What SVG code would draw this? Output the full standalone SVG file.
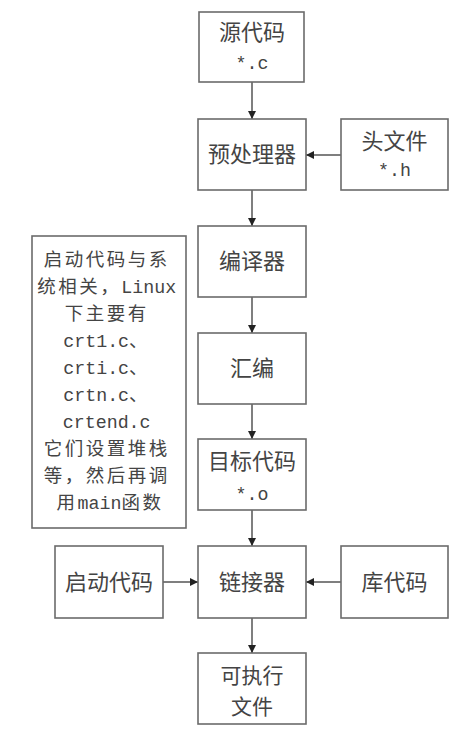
<svg xmlns="http://www.w3.org/2000/svg" width="463" height="746" viewBox="0 0 463 746">
<style>
.box{fill:#fff;stroke:#6b6b6b;stroke-width:1.6}
.t{font-family:"Noto Sans CJK SC","Liberation Sans",sans-serif;font-size:22px;fill:#444;text-anchor:middle}
.n{font-family:"Noto Sans CJK SC","Liberation Sans",sans-serif;font-size:18.5px;letter-spacing:2.5px;fill:#444;text-anchor:middle}
.m{font-family:"Liberation Mono","DejaVu Sans Mono",monospace;font-size:18.3px;letter-spacing:0}
.c{stroke:#555;stroke-width:1.5;fill:none;marker-end:url(#ah)}
</style>
<defs>
<marker id="ah" markerWidth="8" markerHeight="8" refX="8" refY="4" orient="auto" markerUnits="userSpaceOnUse">
<path d="M0,0 L8,4 L0,8 Z" fill="#222"/>
</marker>
</defs>
<rect width="463" height="746" fill="#fff"/>
<g id="connectors">
<line class="c" x1="252" y1="82" x2="252" y2="119"/>
<line class="c" x1="341" y1="155" x2="306" y2="155"/>
<line class="c" x1="252" y1="190" x2="252" y2="226"/>
<line class="c" x1="252" y1="297" x2="252" y2="333"/>
<line class="c" x1="252" y1="404" x2="252" y2="439"/>
<line class="c" x1="252" y1="510" x2="252" y2="546"/>
<line class="c" x1="163" y1="582" x2="198" y2="582"/>
<line class="c" x1="341" y1="582" x2="306" y2="582"/>
<line class="c" x1="252" y1="618" x2="252" y2="653"/>
</g>
<g id="src">
<rect class="box" x="199" y="12" width="105" height="70"/>
<text class="t" x="252" y="40">源代码</text>
<text class="t" x="252" y="69"><tspan class="m">*.c</tspan></text>
</g>
<g id="pre">
<rect class="box" x="198" y="119" width="108" height="71"/>
<text class="t" x="252" y="162">预处理器</text>
</g>
<g id="hdr">
<rect class="box" x="341" y="119" width="107" height="71"/>
<text class="t" x="394.5" y="149">头文件</text>
<text class="t" x="394.5" y="176"><tspan class="m">*.h</tspan></text>
</g>
<g id="cc">
<rect class="box" x="198" y="226" width="108" height="71"/>
<text class="t" x="252" y="269">编译器</text>
</g>
<g id="asm">
<rect class="box" x="198" y="333" width="108" height="71"/>
<text class="t" x="252" y="376">汇编</text>
</g>
<g id="obj">
<rect class="box" x="198" y="439" width="108" height="71"/>
<text class="t" x="252" y="469">目标代码</text>
<text class="t" x="252" y="500"><tspan class="m">*.o</tspan></text>
</g>
<g id="note">
<rect class="box" x="32" y="236" width="154" height="292"/>
<text class="n">
<tspan x="110" y="266">启动代码与系</tspan>
<tspan x="110" y="293">统相关，<tspan class="m">Linux</tspan></tspan>
<tspan x="110" y="320">下主要有</tspan>
<tspan x="110" y="347"><tspan class="m">crt1.c</tspan>、</tspan>
<tspan x="110" y="374"><tspan class="m">crti.c</tspan>、</tspan>
<tspan x="110" y="401"><tspan class="m">crtn.c</tspan>、</tspan>
<tspan x="110" y="428" class="m">crtend.c</tspan>
<tspan x="110" y="455">它们设置堆栈</tspan>
<tspan x="110" y="482">等，然后再调</tspan>
<tspan x="110" y="509">用<tspan class="m">main</tspan>函数</tspan>
</text>
</g>
<g id="start">
<rect class="box" x="55" y="546" width="108" height="72"/>
<text class="t" x="109" y="590">启动代码</text>
</g>
<g id="link">
<rect class="box" x="198" y="546" width="108" height="72"/>
<text class="t" x="252" y="590">链接器</text>
</g>
<g id="lib">
<rect class="box" x="341" y="546" width="107" height="72"/>
<text class="t" x="394.5" y="590">库代码</text>
</g>
<g id="exe">
<rect class="box" x="198" y="653" width="108" height="71"/>
<text class="t" x="252" y="682.5" style="font-size:21px">可执行</text>
<text class="t" x="252" y="713.5" style="font-size:21px">文件</text>
</g>
</svg>
